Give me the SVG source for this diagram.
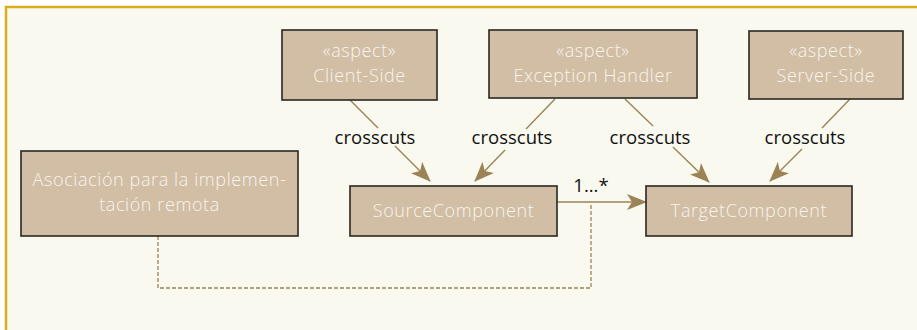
<svg xmlns="http://www.w3.org/2000/svg" width="917" height="330" viewBox="0 0 917 330">
  <defs>
    <style>
      .node rect { fill: #D1BEA5; stroke: #2a2723; stroke-width: 1.6; }
      .node text { fill: #F9F4EC; font-family: "Open Sans", "Noto Sans", sans-serif; font-size: 18px; font-weight: 300; letter-spacing: 0.6px; text-anchor: middle; }
      .conn { stroke: #9B8356; stroke-width: 1.4; fill: none; }
      .dash { stroke: #9B8356; stroke-width: 1.3; fill: none; stroke-dasharray: 4 2; }
      .lbl { fill: #111; font-family: "Open Sans", "Noto Sans", sans-serif; font-size: 18.5px; text-anchor: middle; }
    </style>
    <marker id="arr" viewBox="0 0 20 16" refX="19" refY="8" markerWidth="20" markerHeight="16" markerUnits="userSpaceOnUse" orient="auto">
      <path d="M0,0 L20,8 L0,16 L5,8 Z" fill="#9B8356"/>
    </marker>
  </defs>
  <rect x="0" y="0" width="917" height="330" fill="#FFFFFF"/>
  <rect x="6" y="7" width="911" height="323" fill="#FAF9EF"/>
  <path d="M6,330 L6,7 L917,7" fill="none" stroke="#D9AE1A" stroke-width="2.5"/>

  <g id="connectors">
    <path class="conn" d="M350,100 L378,128"/>
    <path class="conn" d="M395,146 L430,181" marker-end="url(#arr)"/>
    <path class="conn" d="M555,99 L526,129"/>
    <path class="conn" d="M505,150 L475,181" marker-end="url(#arr)"/>
    <path class="conn" d="M625,99 L653,126"/>
    <path class="conn" d="M673,147 L709,182" marker-end="url(#arr)"/>
    <path class="conn" d="M850,99 L822,128"/>
    <path class="conn" d="M802,149 L770,181" marker-end="url(#arr)"/>
    <path class="conn" d="M557,202 L646,202" marker-end="url(#arr)"/>
    <path class="dash" d="M158,236 L158,288 L591,288 L591,203"/>
    <text class="lbl" x="375" y="144">crosscuts</text>
    <text class="lbl" x="512" y="144">crosscuts</text>
    <text class="lbl" x="650" y="144">crosscuts</text>
    <text class="lbl" x="805" y="144">crosscuts</text>
    <text class="lbl" x="591" y="192">1...*</text>
  </g>

  <g id="client-side" class="node">
    <rect x="282" y="30" width="155" height="70"/>
    <text x="359.5" y="57">«aspect»</text>
    <text x="359.5" y="82">Client-Side</text>
  </g>
  <g id="exception-handler" class="node">
    <rect x="489" y="30" width="208" height="68"/>
    <text x="593" y="57">«aspect»</text>
    <text x="593" y="82">Exception Handler</text>
  </g>
  <g id="server-side" class="node">
    <rect x="749" y="31" width="154" height="68"/>
    <text x="826" y="57">«aspect»</text>
    <text x="826" y="82">Server-Side</text>
  </g>
  <g id="asociacion" class="node">
    <rect x="21" y="151" width="277" height="85"/>
    <text x="159.5" y="186">Asociación para la implemen-</text>
    <text x="159.5" y="211">tación remota</text>
  </g>
  <g id="source-component" class="node">
    <rect x="350" y="186" width="207" height="50"/>
    <text x="453.5" y="217">SourceComponent</text>
  </g>
  <g id="target-component" class="node">
    <rect x="646" y="186" width="206" height="50"/>
    <text x="749" y="217">TargetComponent</text>
  </g>
</svg>
